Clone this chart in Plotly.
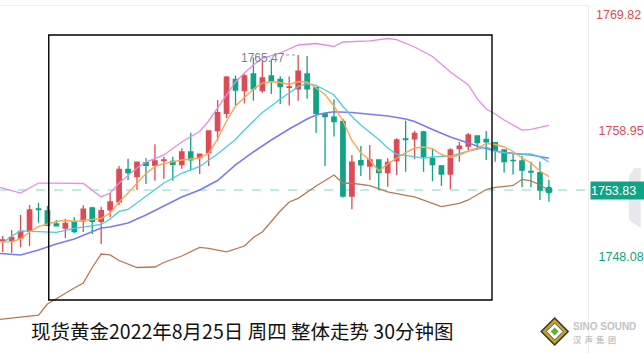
import plotly.graph_objects as go

# ---------------- data ----------------
candle_idx = list(range(62))
opens = [1749.48,1749.46,1749.69,1750.27,1752.19,1752.02,1750.90,1750.55,1751.07,1751.18,
         1752.28,1751.13,1752.11,1752.80,1755.61,1754.98,1756.18,1755.96,1756.37,1756.30,
         1756.01,1757.11,1756.62,1757.05,1758.94,1760.43,1763.37,1762.39,1763.83,1762.39,
         1763.66,1763.37,1762.67,1762.54,1763.83,1762.67,1760.38,1760.10,1759.75,1753.31,
         1756.36,1755.90,1756.42,1755.32,1756.36,1758.23,1758.23,1758.83,1756.56,1755.90,
         1755.21,1757.39,1757.62,1758.49,1758.20,1757.91,1757.28,1756.39,1756.33,1755.44,
         1755.32,1753.86]
highs = [1749.86,1750.38,1751.67,1752.54,1752.74,1752.45,1751.24,1751.36,1751.48,1752.51,
         1752.39,1752.39,1753.57,1755.90,1756.53,1756.27,1756.56,1757.77,1756.70,1756.70,
         1757.43,1758.77,1756.91,1758.92,1761.59,1763.66,1763.70,1763.83,1765.25,1765.04,
         1765.08,1763.63,1763.62,1765.47,1765.38,1762.74,1760.49,1761.65,1759.98,1756.85,
         1757.62,1757.71,1756.46,1756.56,1758.29,1759.80,1758.93,1758.93,1757.43,1755.99,
         1757.43,1757.97,1758.74,1758.49,1758.92,1757.91,1757.28,1756.99,1756.76,1756.27,
         1756.27,1754.69]
lows = [1748.49,1748.40,1748.89,1749.00,1751.01,1750.73,1750.73,1749.69,1750.10,1750.21,
        1750.04,1749.17,1751.48,1752.54,1754.69,1753.83,1754.35,1754.63,1754.80,1754.63,
        1755.67,1755.49,1755.21,1755.90,1758.08,1760.04,1761.16,1761.29,1761.53,1762.22,
        1762.11,1761.24,1761.12,1761.53,1761.72,1758.77,1755.90,1758.44,1753.18,1752.17,
        1755.04,1754.69,1753.83,1754.11,1755.12,1755.41,1756.50,1755.41,1754.61,1754.18,
        1753.92,1756.27,1757.28,1757.36,1756.42,1756.27,1755.34,1755.17,1754.06,1754.06,
        1752.97,1752.82]
closes = [1749.52,1749.75,1750.27,1752.11,1752.13,1750.79,1750.75,1750.96,1750.24,1752.17,
          1751.13,1752.05,1752.80,1755.61,1755.32,1756.24,1755.96,1756.33,1756.42,1756.05,
          1757.11,1756.42,1756.91,1758.92,1760.49,1763.55,1762.45,1763.66,1762.54,1763.49,
          1763.23,1762.74,1762.71,1764.07,1762.54,1760.43,1760.15,1759.72,1753.31,1756.24,
          1755.99,1756.42,1755.34,1756.20,1758.14,1758.18,1758.70,1756.70,1756.01,1755.21,
          1757.28,1757.62,1758.57,1757.91,1757.99,1757.25,1756.27,1756.36,1755.55,1755.38,
          1753.83,1753.83]

ma_orange_x = [-1,0,1,2,3,4,5,6,7,8,9,10,11,12,13,14,15,16,17,18,20,22,23,24,25,26,27,28,29,30,
               31,32,33,34,35,36,37,38,39,40,41,42,43,44,45,46,47,48,49,50,51,52,53,54,55,56,57,
               58,59,60,61]
ma_orange = [1749.35,1749.37,1749.37,1749.61,1750.21,1750.68,1750.90,1751.11,1751.22,1751.11,
             1751.20,1751.26,1751.37,1751.85,1752.80,1753.57,1754.43,1755.25,1755.87,1756.10,
             1756.42,1756.59,1756.98,1758.23,1759.78,1761.07,1761.80,1762.54,1763.05,1763.16,
             1763.10,1762.93,1763.18,1763.14,1762.62,1762.06,1761.07,1759.78,1758.10,1757.02,
             1756.42,1755.47,1756.07,1756.55,1757.06,1757.45,1757.54,1757.37,1756.89,1756.63,
             1756.85,1757.19,1757.45,1757.84,1757.75,1757.54,1757.15,1756.59,1756.16,1755.47,
             1754.98]

ma_cyan_x = [0,1,2,4,6,8,10,11,12,13,14,15,16,17,18,20,22,24,26,27,28,29,30,31,32,33,34,35,36,37,
             38,39,40,41,42,43,44,46,47,48,50,52,53,54,55,56,58,59,60,61]
ma_cyan = [1749.26,1749.86,1750.30,1750.25,1750.17,1750.53,1750.73,1750.86,1751.33,1751.98,
           1752.15,1752.71,1753.23,1753.83,1754.43,1755.27,1755.86,1756.93,1758.18,1759.00,
           1759.78,1760.51,1761.07,1761.68,1762.19,1762.74,1763.01,1762.84,1762.45,1762.02,
           1761.03,1760.17,1759.43,1758.79,1758.18,1757.45,1756.89,1756.70,1756.55,1756.68,
           1756.76,1757.19,1757.34,1757.56,1757.19,1757.04,1756.93,1756.95,1756.68,1756.27]

ma_blue_x = [-1,0,2,4,6,8,10,11,12,14,16,17,18,20,22,24,26,28,30,32,34,35,36,37,39,41,43,45,46,48,
             50,52,53,55,56,58,59,61]
ma_blue = [1748.40,1748.36,1748.23,1748.66,1749.17,1749.61,1750.21,1750.55,1750.64,1750.99,
           1751.67,1752.06,1752.45,1753.23,1753.83,1754.65,1755.99,1757.11,1758.14,1759.09,
           1759.95,1760.30,1760.47,1760.58,1760.51,1760.38,1760.21,1759.95,1759.74,1759.05,
           1758.40,1757.88,1757.62,1757.19,1757.06,1756.91,1756.85,1756.56]

boll_up_x = [-1,0,2,4,6,8,9,11,12,13,14,15,16,18,20,22,23,24,25,26,27,28,29,31,33,35,37,38,41,43,
             44,46,48,50,52,53,54,55,56,58,59,61]
boll_up = [1754.17,1754.00,1753.57,1754.43,1754.43,1754.43,1754.39,1753.23,1753.57,1754.43,
           1755.12,1755.73,1756.24,1756.85,1757.97,1758.87,1759.78,1760.90,1762.02,1763.14,
           1763.92,1764.61,1765.17,1765.64,1766.33,1766.46,1766.20,1766.59,1766.68,1766.89,
           1766.80,1766.16,1765.34,1764.00,1762.88,1761.68,1760.81,1760.38,1759.86,1759.00,
           1759.05,1759.41]

boll_low_x = [-1,0,2,4,5,6,8,9,10,11,12,13,15,17,18,20,22,23,25,27,28,29,30,31,32,33,35,36,37,38,
              39,41,43,45,46,49,51,52,53,54,55,57,58,59,60,61]
boll_low = [1742.62,1742.71,1742.86,1743.05,1744.00,1744.48,1745.38,1745.81,1747.15,1748.31,
            1748.23,1747.75,1747.15,1747.19,1747.58,1748.14,1748.89,1748.80,1748.49,1749.00,
            1749.74,1750.21,1751.16,1752.02,1752.80,1753.11,1754.17,1754.65,1755.12,1754.41,
            1754.41,1754.20,1753.66,1753.37,1753.23,1752.39,1752.67,1752.97,1753.40,1753.87,
            1754.05,1754.22,1754.75,1754.61,1754.26,1753.83]

axis_ticks = [1758.95, 1748.08]
axis_top_label = 1769.82
last_price = 1753.83
high_label = 1765.47
high_idx = 33
title_text = "现货黄金2022年8月25日 周四 整体走势 30分钟图"

# ---------------- styling ----------------
RED = "#dd4b57"
GREEN = "#11a386"
W, H = 644, 353
ML, MR, MT, MB = 0, 53, 6, 0
PW, PH = W - ML - MR, H - MT - MB


def pxx(px):
    return (px - ML) / PW


def pxy(py):
    return 1 - (py - MT) / PH


fig = go.Figure()

line_specs = [
    (boll_up_x, boll_up, "#e38ee0", 1.3),
    (boll_low_x, boll_low, "#b57a55", 1.3),
    (ma_blue_x, ma_blue, "#7b7bf0", 1.6),
    (ma_cyan_x, ma_cyan, "#4ccbe4", 1.3),
    (ma_orange_x, ma_orange, "#ffa552", 1.4),
]
for xs, ys, col, wd in line_specs:
    fig.add_trace(go.Scatter(x=xs, y=ys, mode="lines",
                             line=dict(color=col, width=wd), hoverinfo="skip",
                             showlegend=False))

fig.add_trace(go.Candlestick(
    x=candle_idx, open=opens, high=highs, low=lows, close=closes,
    increasing=dict(line=dict(color=RED, width=1.3), fillcolor=RED),
    decreasing=dict(line=dict(color=GREEN, width=1.3), fillcolor=GREEN),
    whiskerwidth=0, showlegend=False, hoverinfo="skip"))

fig.add_trace(go.Scatter(x=[candle_idx[-1]], y=[closes[-1]], mode="markers",
                         marker=dict(color=GREEN, size=7), hoverinfo="skip",
                         showlegend=False))

SCALE = 11.6  # px per price unit
y_lo = last_price - (H - 190) / SCALE
y_hi = last_price + (190 - MT) / SCALE
x_lo = -2.7 / 9
x_hi = (PW - 2.7) / 9

shapes = [
    # current price dashed line
    dict(type="line", xref="paper", x0=0, x1=1, yref="y", y0=last_price, y1=last_price,
         line=dict(color="#7fd7cc", width=1.2, dash="dash"), layer="below"),
    # black frame
    dict(type="rect", xref="paper", yref="paper", x0=pxx(49), x1=pxx(494.5),
         y0=pxy(300), y1=pxy(35), line=dict(color="black", width=1.4)),
    # dotted leader for high label
    dict(type="line", xref="x", yref="y", x0=high_idx - 1.35, x1=high_idx - 0.1,
         y0=high_label, y1=high_label, line=dict(color="#9a9cab", width=1, dash="dot")),
    # right side grey tab
    dict(type="path", xref="paper", yref="paper",
         path=f"M {pxx(644)} {pxy(168)} L {pxx(638)} {pxy(168)} L {pxx(632)} {pxy(176)} "
              f"L {pxx(632)} {pxy(220)} L {pxx(644)} {pxy(228)} Z",
         fillcolor="rgba(228,228,233,0.85)", line=dict(width=0), layer="above"),
    # chevron on tab
    dict(type="path", xref="paper", yref="paper",
         path=f"M {pxx(637)} {pxy(186)} L {pxx(641)} {pxy(191)} L {pxx(637)} {pxy(196)}",
         line=dict(color="#6f6f6f", width=1.3), layer="above"),
    # logo diamond
    dict(type="path", xref="paper", yref="paper",
         path=f"M {pxx(557.5)} {pxy(318)} L {pxx(571)} {pxy(331.5)} L {pxx(557.5)} {pxy(345)} "
              f"L {pxx(544)} {pxy(331.5)} Z",
         fillcolor="#c9a227", line=dict(color="#3b3320", width=1.5)),
    dict(type="path", xref="paper", yref="paper",
         path=f"M {pxx(557.5)} {pxy(323)} L {pxx(566)} {pxy(331.5)} L {pxx(557.5)} {pxy(340)} "
              f"L {pxx(549)} {pxy(331.5)} Z",
         fillcolor="white", line=dict(color="#555", width=1)),
    dict(type="path", xref="paper", yref="paper",
         path=f"M {pxx(557.5)} {pxy(327.5)} L {pxx(561.5)} {pxy(331.5)} L {pxx(557.5)} {pxy(335.5)} "
              f"L {pxx(553.5)} {pxy(331.5)} Z",
         fillcolor="#5fae3a", line=dict(width=0)),
]

annotations = [
    dict(xref="paper", yref="paper", x=1, y=pxy(15), xanchor="left", yanchor="middle",
         xshift=6, showarrow=False, text=f"{axis_top_label:.2f}",
         font=dict(family="Liberation Sans, Arial", size=12.5, color=RED)),
    dict(xref="paper", yref="y", x=1, y=last_price, xanchor="left", yanchor="middle",
         xshift=2, showarrow=False, text=f"{last_price:.2f}", bgcolor=GREEN,
         width=56, height=17, align="left", borderpad=0,
         font=dict(family="Liberation Sans, Arial", size=12.5, color="white")),
    dict(xref="x", yref="y", x=high_idx - 1.2, y=high_label, xanchor="right", yanchor="middle",
         yshift=-3, showarrow=False, text=f"{high_label:.2f}",
         font=dict(family="Liberation Sans, Arial", size=12, color="#7f8192")),
    dict(xref="paper", yref="paper", x=pxx(29), y=pxy(330), xanchor="left", yanchor="middle",
         showarrow=False, text=title_text,
         font=dict(family="Noto Sans CJK SC", size=19.5, color="#111")),
    dict(xref="paper", yref="paper", x=pxx(574), y=pxy(326), xanchor="left", yanchor="middle",
         showarrow=False, text="<b>SINO SOUND</b>",
         font=dict(family="Liberation Sans, Arial", size=10, color="#c3c3c3")),
    dict(xref="paper", yref="paper", x=pxx(574), y=pxy(339), xanchor="left", yanchor="middle",
         showarrow=False, text="<b>汉  声  集  团</b>",
         font=dict(family="Noto Sans CJK SC", size=8, color="#c3c3c3")),
]

ticktext = [f"<span style='color:{RED if v > last_price else GREEN}'>{v:.2f}</span>" for v in axis_ticks]

fig.update_layout(
    width=W, height=H,
    margin=dict(l=ML, r=MR, t=MT, b=MB, pad=0),
    paper_bgcolor="white", plot_bgcolor="white",
    showlegend=False,
    shapes=shapes, annotations=annotations,
    xaxis=dict(range=[x_lo, x_hi], showgrid=False, zeroline=False, showticklabels=False,
               ticks="", side="top", showline=True, linecolor="#eeeef2", linewidth=1,
               rangeslider=dict(visible=False), fixedrange=True),
    yaxis=dict(range=[y_lo, y_hi], side="right", showgrid=False, zeroline=False,
               tickvals=axis_ticks, ticktext=ticktext, ticks="", ticklabelstandoff=7,
               showline=True, linecolor="#eeeef2", linewidth=1,
               tickfont=dict(family="Liberation Sans, Arial", size=12.5, color=RED),
               fixedrange=True),
)

fig.write_html("out.html")
